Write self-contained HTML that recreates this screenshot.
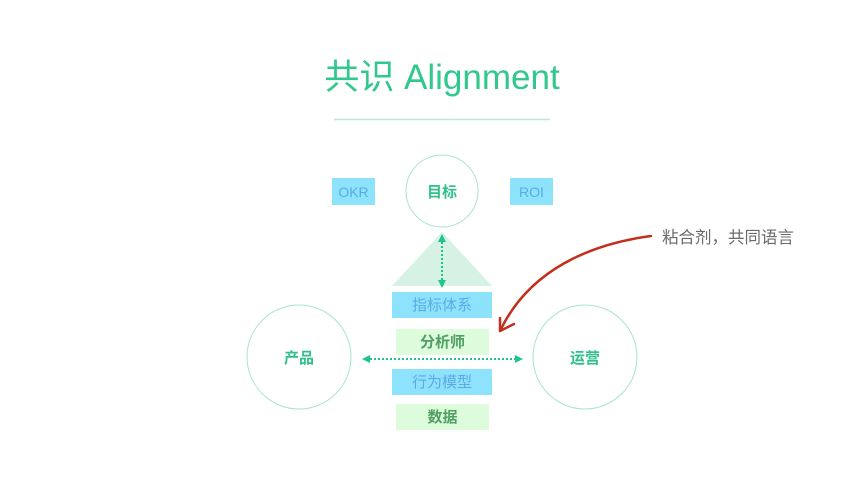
<!DOCTYPE html>
<html><head><meta charset="utf-8"><style>
body{margin:0;width:868px;height:482px;background:#fff;overflow:hidden}
svg{display:block}
text{font-family:"Liberation Sans","Noto Sans CJK SC",sans-serif}
</style></head><body>
<svg width="868" height="482" viewBox="0 0 868 482">
<defs>
<marker id="ah" viewBox="0 0 10 10" refX="5" refY="5" markerUnits="userSpaceOnUse" markerWidth="8" markerHeight="8" orient="auto-start-reverse"><path d="M0,0 L10,5 L0,10 z" fill="#20c48f"/></marker>
</defs>
<text x="442" y="89" font-size="35" fill="#30c88c" text-anchor="middle">共识 Alignment</text>
<line x1="334" y1="119.5" x2="550" y2="119.5" stroke="#b7ead2" stroke-width="1.5"/>
<circle cx="442" cy="191" r="36" fill="none" stroke="#a6e6cb" stroke-width="1"/>
<text x="442" y="197" font-size="15" font-weight="bold" fill="#30c08a" text-anchor="middle">目标</text>
<rect x="332" y="178" width="43" height="27" fill="#8de3fb"/>
<text x="353.5" y="197" font-size="14" fill="#5aaae8" text-anchor="middle">OKR</text>
<rect x="510" y="178" width="43" height="27" fill="#8de3fb"/>
<text x="531.5" y="197" font-size="14" fill="#5aaae8" text-anchor="middle">ROI</text>
<polygon points="442,232 492,286 392,286" fill="#d6f2e4"/>
<line x1="442" y1="238" x2="442" y2="284" stroke="#20c48f" stroke-width="2" stroke-dasharray="2,2" marker-start="url(#ah)" marker-end="url(#ah)"/>
<rect x="392" y="292" width="100" height="26" fill="#8de3fb"/>
<text x="442" y="310" font-size="15" fill="#5aaae8" text-anchor="middle">指标体系</text>
<rect x="396" y="329" width="93" height="26" fill="#dcfcdc"/>
<text x="442.5" y="347" font-size="15" font-weight="bold" fill="#4f9e62" text-anchor="middle">分析师</text>
<rect x="392" y="369" width="100" height="26" fill="#8de3fb"/>
<text x="442" y="387" font-size="15" fill="#5aaae8" text-anchor="middle">行为模型</text>
<rect x="396" y="404" width="93" height="26" fill="#dcfcdc"/>
<text x="442.5" y="422" font-size="15" font-weight="bold" fill="#4f9e62" text-anchor="middle">数据</text>
<line x1="366" y1="359" x2="519" y2="359" stroke="#20c48f" stroke-width="2" stroke-dasharray="2,2" marker-start="url(#ah)" marker-end="url(#ah)"/>
<circle cx="299" cy="357" r="52" fill="none" stroke="#a6e6cb" stroke-width="1"/>
<text x="299" y="363" font-size="15" font-weight="bold" fill="#30c08a" text-anchor="middle">产品</text>
<circle cx="585" cy="357" r="52" fill="none" stroke="#a6e6cb" stroke-width="1"/>
<text x="585" y="363" font-size="15" font-weight="bold" fill="#30c08a" text-anchor="middle">运营</text>
<path d="M651,236 C590,244 530,270 501,329" fill="none" stroke="#c0301c" stroke-width="2.5" stroke-linecap="round"/>
<path d="M500,318 L500,331 L514,324" fill="none" stroke="#c0301c" stroke-width="2.5" stroke-linecap="round" stroke-linejoin="round"/>
<text x="662" y="243" font-size="16.5" fill="#6a6a6a">粘合剂，共同语言</text>
</svg>
</body></html>
